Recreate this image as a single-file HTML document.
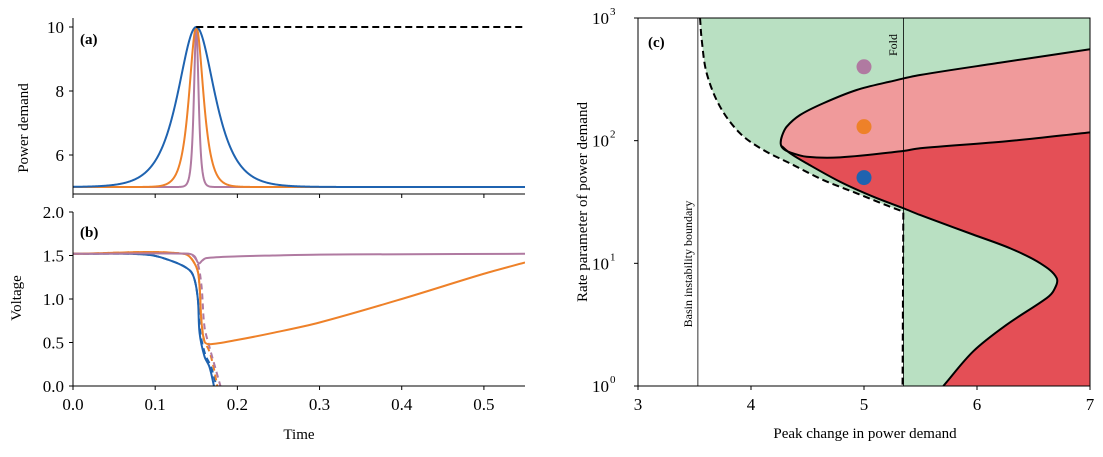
<!DOCTYPE html>
<html><head><meta charset="utf-8"><style>
body{margin:0;background:#fff}
svg text{font-family:"Liberation Serif","DejaVu Serif",serif;fill:#000}
</style></head><body>
<svg id="fig" width="1103" height="452" viewBox="0 0 1103 452" xmlns="http://www.w3.org/2000/svg">
<defs>
<clipPath id="clipA"><rect x="73" y="18" width="452" height="176"/></clipPath>
<clipPath id="clipB"><rect x="73" y="212" width="452" height="174"/></clipPath>
<clipPath id="clipC"><rect x="638" y="18" width="452" height="368"/></clipPath>
</defs>
<g id="gA"></g>
<g id="gB"></g>
<g id="gC"></g>
</svg>
<script>
// ---- Panel a data ----
const rates = [50, 130, 400];
const rateColors = ['#1f63b0', '#ee8129', '#b07aa1'];
const peakTime = 0.15, baseDemand = 5, peakChange = 5;
const aYTicks = [6, 8, 10];
const tTicks = [0.0, 0.1, 0.2, 0.3, 0.4, 0.5];
// ---- Panel b data (time, voltage) ----
const blueT = [0, 0.09, 0.122, 0.142, 0.148, 0.152, 0.154, 0.16, 0.166, 0.172];
const blueV = [1.52, 1.51, 1.43, 1.33, 1.22, 0.99, 0.61, 0.34, 0.22, -0.02];
const blueDT = [0, 0.09, 0.122, 0.142, 0.148, 0.152, 0.155, 0.161, 0.168, 0.175];
const blueDV = [1.52, 1.51, 1.43, 1.33, 1.22, 0.99, 0.61, 0.36, 0.22, -0.02];
const orT = [0, 0.135, 0.15, 0.154, 0.156, 0.16, 0.166, 0.2, 0.243, 0.3, 0.4, 0.5, 0.55];
const orV = [1.52, 1.52, 1.37, 1.14, 0.78, 0.51, 0.48, 0.53, 0.61, 0.73, 1.0, 1.29, 1.42];
const orDT = [0, 0.135, 0.15, 0.154, 0.156, 0.16, 0.165, 0.17, 0.176];
const orDV = [1.52, 1.52, 1.37, 1.14, 0.78, 0.51, 0.42, 0.26, -0.02];
const puT = [0, 0.14, 0.148, 0.153, 0.157, 0.162, 0.2, 0.243, 0.3, 0.55];
const puV = [1.52, 1.52, 1.49, 1.41, 1.44, 1.47, 1.49, 1.50, 1.51, 1.52];
const puDT = [0, 0.14, 0.15, 0.156, 0.16, 0.166, 0.174, 0.18];
const puDV = [1.52, 1.52, 1.45, 1.18, 0.68, 0.45, 0.18, -0.02];
const bYTicks = [0.0, 0.5, 1.0, 1.5, 2.0];
// ---- Panel c data (peak change, log10 rate) ----
const dashX = [3.549, 3.564, 3.608, 3.726, 3.903, 4.109, 4.345, 4.64, 4.935, 5.23, 5.348];
const dashY = [3.0, 2.821, 2.549, 2.277, 2.06, 1.924, 1.815, 1.679, 1.571, 1.462, 1.421];
const upX = [7.0, 6.2, 5.496, 5.23, 4.935, 4.64, 4.434, 4.316, 4.275, 4.263];
const upY = [2.745, 2.635, 2.535, 2.481, 2.413, 2.305, 2.209, 2.114, 2.04, 1.975];
const lowX = [4.263, 4.285, 4.345, 4.493, 4.788, 5.348, 5.496, 6.263, 7.0];
const lowY = [1.975, 1.935, 1.905, 1.869, 1.864, 1.916, 1.938, 1.995, 2.068];
const redX = [4.272, 4.35, 4.493, 4.788, 5.082, 5.348, 5.496, 5.967, 6.3, 6.56, 6.705, 6.68, 6.617, 6.263, 5.967, 5.702];
const redY = [1.955, 1.895, 1.815, 1.665, 1.543, 1.449, 1.394, 1.234, 1.12, 1.0, 0.88, 0.78, 0.717, 0.5, 0.283, 0.0];
const foldX = 5.35, basinX = 3.53;
const dotX = [5, 5, 5];
const dotRate = [400, 130, 50];
const dotColors = ['#b07aa1', '#ee8129', '#1f63b0'];
const cXTicks = [3, 4, 5, 6, 7];
const cYTicks = [0, 1, 2, 3];

const NS = 'http://www.w3.org/2000/svg';
function mk(tag, attrs, parent) { const e = document.createElementNS(NS, tag); for (const k in attrs) e.setAttribute(k, attrs[k]); parent.appendChild(e); return e; }
const tx = t => 73 + (t / 0.55) * 452;
const ayv = v => 187 - (v - 5) * 32;
const byv = v => 386 - v * 87;
const cx = x => 638 + (x - 3) * 113;
const cy = l => 386 - l * 122.67;
function dist(a, b) { return Math.hypot(a[0] - b[0], a[1] - b[1]) || 1e-6; }
function smooth(pts) {
  const n = pts.length;
  const tan = pts.map((p, i) => {
    const a = pts[Math.max(0, i - 1)], b = pts[Math.min(n - 1, i + 1)];
    const L = dist(a, b);
    return [(b[0] - a[0]) / L, (b[1] - a[1]) / L];
  });
  let d = 'M' + pts[0][0] + ',' + pts[0][1];
  for (let i = 0; i < n - 1; i++) {
    const p1 = pts[i], p2 = pts[i + 1], s = dist(p1, p2) / 3;
    const c1 = [p1[0] + tan[i][0] * s, p1[1] + tan[i][1] * s];
    const c2 = [p2[0] - tan[i + 1][0] * s, p2[1] - tan[i + 1][1] * s];
    d += 'C' + c1[0] + ',' + c1[1] + ' ' + c2[0] + ',' + c2[1] + ' ' + p2[0] + ',' + p2[1];
  }
  return d;
}
function txt(parent, x, y, s, size, extra) {
  const e = mk('text', Object.assign({x: x, y: y, 'font-size': size}, extra || {}), parent); e.textContent = s; return e;
}

// ===== Panel A =====
const gA = document.getElementById('gA');
const aLines = mk('g', {'clip-path': 'url(#clipA)'}, gA);
[2, 1, 0].forEach(i => {
  let d = '';
  for (let k = 0; k <= 1100; k++) {
    const t = k * 0.0005;
    const v = baseDemand + peakChange / Math.cosh(rates[i] * (t - peakTime));
    d += (k ? 'L' : 'M') + tx(t).toFixed(2) + ',' + ayv(v).toFixed(2);
  }
  const p = mk('path', {d: d, fill: 'none', stroke: rateColors[i], 'stroke-width': 2}, aLines);
  
  
});
const step = mk('path', {d: 'M' + tx(peakTime) + ',' + ayv(10) + 'L' + tx(0.55) + ',' + ayv(10), stroke: '#000', 'stroke-width': 2, 'stroke-dasharray': '7,4', fill: 'none'}, aLines);


mk('line', {x1: 73, y1: 18, x2: 73, y2: 194, stroke: '#000', 'stroke-width': 1}, gA);
mk('line', {x1: 73, y1: 194, x2: 525, y2: 194, stroke: '#000', 'stroke-width': 1}, gA);
aYTicks.forEach(v => {
  mk('line', {x1: 69, y1: ayv(v), x2: 73, y2: ayv(v), stroke: '#000'}, gA);
  const t = txt(gA, 64, ayv(v) + 6, String(v), 17, {'text-anchor': 'end'});
  
  
});
tTicks.forEach(v => mk('line', {x1: tx(v), y1: 194, x2: tx(v), y2: 198, stroke: '#000'}, gA));
let e = txt(gA, 80, 44, '(a)', 15, {'font-weight': 'bold'});
 
e = txt(gA, 28, 128, 'Power demand', 15, {'text-anchor': 'middle', transform: 'rotate(-90 28 128)'});
 

// ===== Panel B =====
const gB = document.getElementById('gB');
const bLines = mk('g', {'clip-path': 'url(#clipB)'}, gB);
const series = [
  [blueDT, blueDV, '#1f63b0', true, 'blue-dashed-voltage'],
  [blueT, blueV, '#1f63b0', false, 'blue-voltage'],
  [orDT, orDV, '#ee8129', true, 'orange-dashed-voltage'],
  [puDT, puDV, '#b07aa1', true, 'purple-dashed-voltage'],
  [orT, orV, '#ee8129', false, 'orange-voltage'],
  [puT, puV, '#b07aa1', false, 'purple-voltage']
];
series.forEach(s => {
  const pts = s[0].map((t, i) => [tx(t), byv(s[1][i])]);
  const attrs = {d: smooth(pts), fill: 'none', stroke: s[2], 'stroke-width': 2};
  if (s[3]) attrs['stroke-dasharray'] = '6,4';
  const p = mk('path', attrs, bLines);
  
  
});
mk('line', {x1: 73, y1: 212, x2: 73, y2: 386, stroke: '#000'}, gB);
mk('line', {x1: 73, y1: 386, x2: 525, y2: 386, stroke: '#000'}, gB);
bYTicks.forEach(v => {
  mk('line', {x1: 69, y1: byv(v), x2: 73, y2: byv(v), stroke: '#000'}, gB);
  const t = txt(gB, 64, byv(v) + 6, v.toFixed(1), 17, {'text-anchor': 'end'});
  
  
});
tTicks.forEach(v => {
  mk('line', {x1: tx(v), y1: 386, x2: tx(v), y2: 390, stroke: '#000'}, gB);
  const t = txt(gB, tx(v), 410, v.toFixed(1), 17, {'text-anchor': 'middle'});
  
  
});
e = txt(gB, 80, 237, '(b)', 15, {'font-weight': 'bold'});
 
e = txt(gB, 21, 298, 'Voltage', 15, {'text-anchor': 'middle', transform: 'rotate(-90 21 298)'});
 
e = txt(gB, 299, 439, 'Time', 15, {'text-anchor': 'middle'});
 

// ===== Panel C =====
const gC = document.getElementById('gC');
const cG = mk('g', {'clip-path': 'url(#clipC)'}, gC);
const dashPts = dashX.map((x, i) => [cx(x), cy(dashY[i])]);
const dashPath = smooth(dashPts);
let gp = mk('path', {d: dashPath + 'L' + cx(foldX) + ',' + cy(0) + 'L' + cx(7.2) + ',' + cy(0) + 'L' + cx(7.2) + ',' + cy(3.2) + 'L' + dashPts[0][0] + ',' + cy(3.2) + 'Z', fill: '#b9e0c2', stroke: 'none'}, cG);
 
const upPts = upX.map((x, i) => [cx(x), cy(upY[i])]);
const lowPts = lowX.map((x, i) => [cx(x), cy(lowY[i])]);
const redPts = redX.map((x, i) => [cx(x), cy(redY[i])]);
const redFill = smooth(lowPts) + 'L' + cx(7.2) + ',' + cy(2.068) + 'L' + cx(7.2) + ',' + cy(-0.2) + 'L' + cx(5.65) + ',' + cy(-0.2) + smooth(redPts.slice().reverse()).replace('M', 'L') + 'Z';
gp = mk('path', {d: redFill, fill: '#e44f56', stroke: 'none'}, cG);
 
const pinkPts = upPts.concat(lowPts.slice(1));
const pinkFill = smooth(pinkPts) + 'L' + cx(7.2) + ',' + cy(2.068) + 'L' + cx(7.2) + ',' + cy(2.745) + 'Z';
gp = mk('path', {d: pinkFill, fill: '#f09a9b', stroke: 'none'}, cG);
 
mk('line', {x1: cx(basinX), y1: 18, x2: cx(basinX), y2: 386, stroke: '#000', 'stroke-width': 0.8}, cG);
mk('line', {x1: cx(foldX), y1: 18, x2: cx(foldX), y2: 386, stroke: '#000', 'stroke-width': 0.8}, cG);
gp = mk('path', {d: smooth(pinkPts), fill: 'none', stroke: '#000', 'stroke-width': 2}, cG);
 
gp = mk('path', {d: smooth(redPts), fill: 'none', stroke: '#000', 'stroke-width': 2}, cG);
 
gp = mk('path', {d: dashPath + 'L' + (cx(foldX) - 1) + ',' + cy(0), fill: 'none', stroke: '#000', 'stroke-width': 2, 'stroke-dasharray': '7,4'}, cG);
 
dotX.forEach((x, i) => {
  const c = mk('circle', {cx: cx(x), cy: cy(Math.log10(dotRate[i])), r: 7.5, fill: dotColors[i]}, cG);
  
  
});
mk('rect', {x: 638, y: 18, width: 452, height: 368, fill: 'none', stroke: '#000', 'stroke-width': 1}, gC);
cXTicks.forEach(v => {
  mk('line', {x1: cx(v), y1: 386, x2: cx(v), y2: 390, stroke: '#000'}, gC);
  const t = txt(gC, cx(v), 410, String(v), 17, {'text-anchor': 'middle'});
  
  
});
cYTicks.forEach(v => {
  mk('line', {x1: 634, y1: cy(v), x2: 638, y2: cy(v), stroke: '#000'}, gC);
  const t = txt(gC, 609, cy(v) + 6, '10', 17, {'text-anchor': 'end'});
  
  
  const s = txt(gC, 610, cy(v) - 3, String(v), 11, {});
  
  
});
e = txt(gC, 648, 47, '(c)', 15, {'font-weight': 'bold'});
 
e = txt(gC, 692, 264, 'Basin instability boundary', 12, {'text-anchor': 'middle', transform: 'rotate(-90 692 264)'});
 
e = txt(gC, 897, 45, 'Fold', 12, {'text-anchor': 'middle', transform: 'rotate(-90 897 45)'});
 
e = txt(gC, 587, 202, 'Rate parameter of power demand', 15, {'text-anchor': 'middle', transform: 'rotate(-90 587 202)'});
 
e = txt(gC, 865, 438, 'Peak change in power demand', 15, {'text-anchor': 'middle'});
 
</script>
</body></html>
